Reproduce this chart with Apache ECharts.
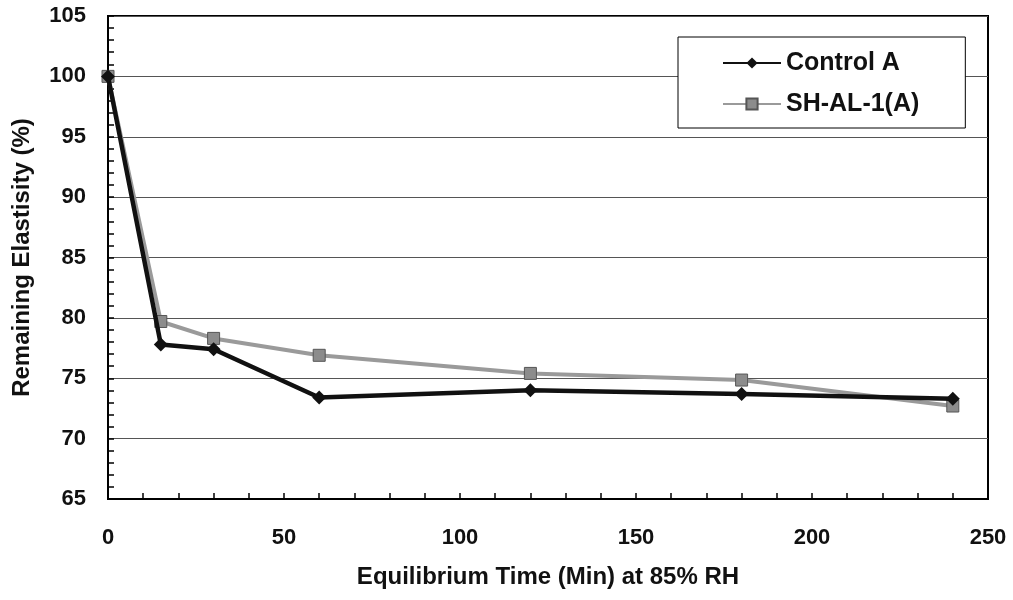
<!DOCTYPE html>
<html><head><meta charset="utf-8">
<script src="https://cdn.jsdelivr.net/npm/echarts@6/dist/echarts.min.js"></script>
<style>html,body{margin:0;padding:0;background:#fff}#c{width:1013px;height:600px}</style>
</head><body><div id="c"></div>
<script>
const xValues = [0, 15, 30, 60, 120, 180, 240];
const controlA = [100, 77.8, 77.4, 73.4, 74.0, 73.7, 73.3];
const shAL1A = [100, 79.7, 78.3, 76.9, 75.4, 74.85, 72.7];
const seriesNames = ['Control A', 'SH-AL-1(A)'];
const xTitle = 'Equilibrium Time (Min) at 85% RH';
const yTitle = 'Remaining Elastisity (%)';

const font = 'Liberation Sans, Arial, sans-serif';
const chart = echarts.init(document.getElementById('c'));
chart.setOption({
  animation: false,
  backgroundColor: '#fff',
  grid: {left: 108, right: 25, top: 16, bottom: 101, show: true, borderColor: '#000', borderWidth: 2, backgroundColor: 'transparent'},
  legend: {
    left: 678, top: 37, orient: 'vertical',
    padding: [13, 46, 11, 44],
    itemGap: 15,
    backgroundColor: '#fff', borderColor: '#000', borderWidth: 1,
    itemWidth: 58, itemHeight: 14,
    textStyle: {fontFamily: font, fontWeight: 'bold', fontSize: 25, lineHeight: 26, color: '#111'},
    data: [
      {name: seriesNames[0]},
      {name: seriesNames[1]}
    ]
  },
  xAxis: {
    type: 'value', min: 0, max: 250, interval: 50,
    name: xTitle, nameLocation: 'middle', nameGap: 66,
    nameTextStyle: {fontFamily: font, fontWeight: 'bold', fontSize: 24, color: '#111'},
    axisLine: {show: true, lineStyle: {color: '#000', width: 2}},
    axisTick: {show: true, inside: true, length: 6, lineStyle: {color: '#000', width: 1.5}},
    minorTick: {show: true, splitNumber: 5, length: 6, lineStyle: {color: '#000', width: 1.5}},
    axisLabel: {fontFamily: font, fontWeight: 'bold', fontSize: 22, color: '#111', margin: 28},
    splitLine: {show: false}
  },
  yAxis: {
    type: 'value', min: 65, max: 105, interval: 5,
    name: yTitle, nameLocation: 'middle', nameGap: 74,
    nameTextStyle: {fontFamily: font, fontWeight: 'bold', fontSize: 24, color: '#111'},
    axisLine: {show: true, lineStyle: {color: '#000', width: 2}},
    axisTick: {show: true, inside: true, length: 6, lineStyle: {color: '#000', width: 1.5}},
    minorTick: {show: true, splitNumber: 5, length: 6, lineStyle: {color: '#000', width: 1.5}},
    axisLabel: {fontFamily: font, fontWeight: 'bold', fontSize: 22, color: '#111', margin: 22},
    splitLine: {show: true, lineStyle: {color: '#555', width: 1}}
  },
  series: [
    {
      name: seriesNames[1], type: 'line', z: 2,
      data: xValues.map((x, i) => [x, shAL1A[i]]),
      symbol: 'rect', symbolSize: 12,
      itemStyle: {color: '#8c8c8c', borderColor: '#555', borderWidth: 1},
      lineStyle: {color: '#9a9a9a', width: 4}
    },
    {
      name: seriesNames[0], type: 'line', z: 3,
      data: xValues.map((x, i) => [x, controlA[i]]),
      symbol: 'diamond', symbolSize: 14,
      itemStyle: {color: '#111'},
      lineStyle: {color: '#111', width: 4.5}
    }
  ]
});
</script></body></html>
